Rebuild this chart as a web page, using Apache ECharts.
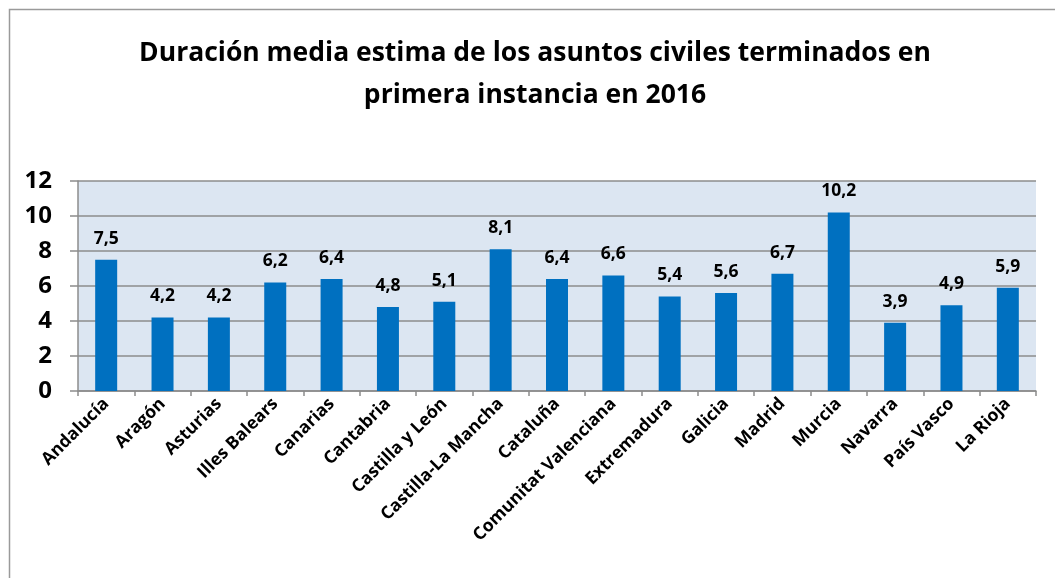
<!DOCTYPE html>
<html>
<head>
<meta charset="utf-8">
<script src="https://cdn.jsdelivr.net/npm/echarts@6/dist/echarts.min.js"></script>
<style>
html,body{margin:0;padding:0;background:#fff;}
#chart{width:1055px;height:578px;}
</style>
</head>
<body>
<div id="chart"></div>
<script>
const titleText = 'Duración media estima de los asuntos civiles terminados en\nprimera instancia en 2016';
const categories = ['Andalucía','Aragón','Asturias','Illes Balears','Canarias','Cantabria','Castilla y León','Castilla-La Mancha','Cataluña','Comunitat Valenciana','Extremadura','Galicia','Madrid','Murcia','Navarra','País Vasco','La Rioja'];
const values = [7.5,4.2,4.2,6.2,6.4,4.8,5.1,8.1,6.4,6.6,5.4,5.6,6.7,10.2,3.9,4.9,5.9];
const yMin = 0, yMax = 12, yStep = 2;

const font = '"Open Sans", Lato, sans-serif';
const chart = echarts.init(document.getElementById('chart'));
chart.setOption({
  backgroundColor: '#ffffff',
  animation: false,
  graphic: [{
    type: 'rect', silent: true, z: -10,
    shape: {x: 9.5, y: 9.5, width: 1200, height: 700},
    style: {fill: 'none', stroke: '#9a9a9a', lineWidth: 1.5}
  }],
  title: {
    text: titleText,
    left: 530, top: 27, textAlign: 'center',
    textStyle: {fontFamily: font, fontWeight: 'bold', fontSize: 26.5, color: '#000', lineHeight: 42}
  },
  grid: {left: 78, right: 19, top: 181, bottom: 187, show: true, backgroundColor: '#dce6f2', borderWidth: 0},
  xAxis: {
    type: 'category', data: categories,
    axisLine: {show: true, lineStyle: {color: '#8c8c8c', width: 1.5}},
    axisTick: {show: true, alignWithLabel: false, length: 5, lineStyle: {color: '#8c8c8c', width: 1.5}},
    axisLabel: {rotate: 45, interval: 0, margin: 10, fontFamily: font, fontWeight: 'bold', fontSize: 17.5, color: '#000'}
  },
  yAxis: {
    type: 'value', min: yMin, max: yMax, interval: yStep,
    axisLine: {show: true, lineStyle: {color: '#8c8c8c', width: 1.5}},
    axisTick: {show: true, length: 8, lineStyle: {color: '#8c8c8c', width: 1.5}},
    splitLine: {show: true, lineStyle: {color: '#8c8c8c', width: 1.5}},
    axisLabel: {margin: 26, fontFamily: font, fontWeight: 'bold', fontSize: 24, color: '#000'}
  },
  series: [{
    type: 'bar', data: values, barWidth: 22,
    itemStyle: {color: '#0070c0'},
    label: {
      show: true, position: 'top', distance: 12,
      fontFamily: font, fontWeight: 'bold', fontSize: 17.5, color: '#000',
      formatter: p => String(p.value).replace('.', ',')
    }
  }]
});
</script>
</body>
</html>
